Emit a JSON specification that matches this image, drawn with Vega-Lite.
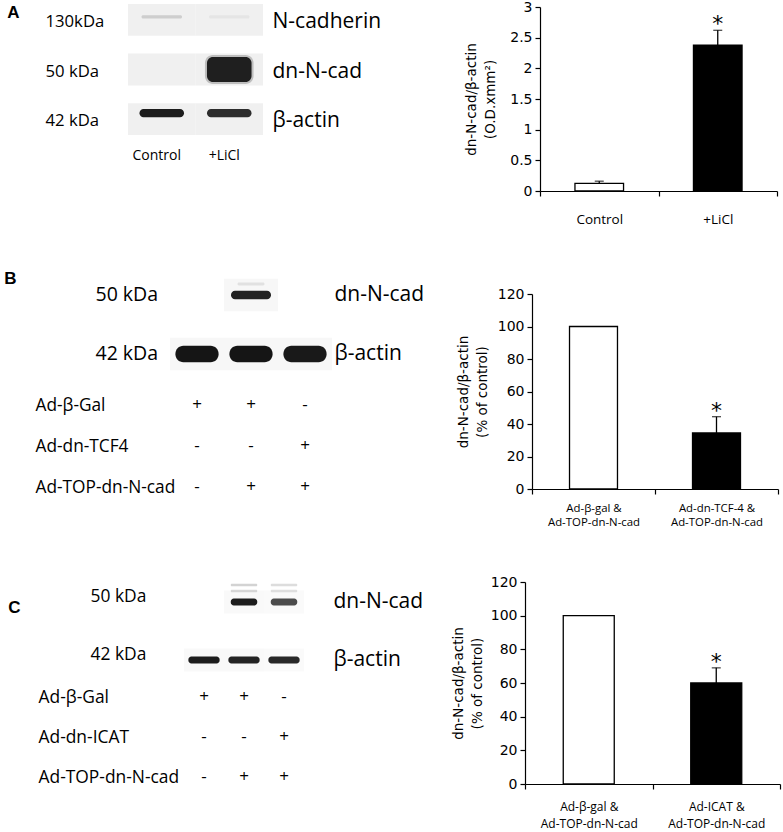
{
  "$schema": "https://vega.github.io/schema/vega-lite/v6.json",
  "width": 783,
  "height": 832,
  "autosize": {"type": "none"},
  "padding": 0,
  "config": {
    "view": {"stroke": null},
    "font": "DejaVu Sans",
    "axis": {"domainColor": "black", "tickColor": "black", "labelColor": "black", "titleColor": "black", "grid": false, "labelFont": "DejaVu Sans", "titleFont": "DejaVu Sans", "domainWidth": 1.2, "tickWidth": 1.2},
    "axisY": {"titleFontSize": 13.5, "titleFontWeight": "normal", "titleLineHeight": 19},
    "text": {"fill": "black", "color": "black"}
  },
  "datasets": {
    "barsA": [
      {"group": "Control", "mean": 0.125, "upper": 0.16, "star": ""},
      {"group": "+LiCl", "mean": 2.38, "upper": 2.62, "star": "*"}
    ],
    "barsB": [
      {"group": "Ad-β-gal & Ad-TOP-dn-N-cad", "mean": 100, "upper": null, "star": ""},
      {"group": "Ad-dn-TCF-4 & Ad-TOP-dn-N-cad", "mean": 34.5, "upper": 44.5, "star": "*"}
    ],
    "barsC": [
      {"group": "Ad-β-gal & Ad-TOP-dn-N-cad", "mean": 100, "upper": null, "star": ""},
      {"group": "Ad-ICAT & Ad-TOP-dn-N-cad", "mean": 60, "upper": 69, "star": "*"}
    ],
    "blotA": [
      {"lane": "Control", "mw": "130kDa", "protein": "N-cadherin", "signal": 0.2},
      {"lane": "+LiCl", "mw": "130kDa", "protein": "N-cadherin", "signal": 0.06},
      {"lane": "Control", "mw": "50 kDa", "protein": "dn-N-cad", "signal": 0},
      {"lane": "+LiCl", "mw": "50 kDa", "protein": "dn-N-cad", "signal": 0.92},
      {"lane": "Control", "mw": "42 kDa", "protein": "β-actin", "signal": 0.95},
      {"lane": "+LiCl", "mw": "42 kDa", "protein": "β-actin", "signal": 0.88}
    ],
    "blotB": [
      {"lane": 1, "mw": "50 kDa", "protein": "dn-N-cad", "signal": 0},
      {"lane": 2, "mw": "50 kDa", "protein": "dn-N-cad", "signal": 0.93},
      {"lane": 3, "mw": "50 kDa", "protein": "dn-N-cad", "signal": 0},
      {"lane": 1, "mw": "42 kDa", "protein": "β-actin", "signal": 0.97},
      {"lane": 2, "mw": "42 kDa", "protein": "β-actin", "signal": 0.97},
      {"lane": 3, "mw": "42 kDa", "protein": "β-actin", "signal": 0.95}
    ],
    "blotC": [
      {"lane": 1, "mw": "50 kDa", "protein": "dn-N-cad", "signal": 0},
      {"lane": 2, "mw": "50 kDa", "protein": "dn-N-cad", "signal": 0.95},
      {"lane": 3, "mw": "50 kDa", "protein": "dn-N-cad", "signal": 0.75},
      {"lane": 1, "mw": "42 kDa", "protein": "β-actin", "signal": 0.95},
      {"lane": 2, "mw": "42 kDa", "protein": "β-actin", "signal": 0.92},
      {"lane": 3, "mw": "42 kDa", "protein": "β-actin", "signal": 0.9}
    ],
    "tableB": [
      {"treatment": "Ad-β-Gal", "lane": 1, "sign": "+"},
      {"treatment": "Ad-β-Gal", "lane": 2, "sign": "+"},
      {"treatment": "Ad-β-Gal", "lane": 3, "sign": "-"},
      {"treatment": "Ad-dn-TCF4", "lane": 1, "sign": "-"},
      {"treatment": "Ad-dn-TCF4", "lane": 2, "sign": "-"},
      {"treatment": "Ad-dn-TCF4", "lane": 3, "sign": "+"},
      {"treatment": "Ad-TOP-dn-N-cad", "lane": 1, "sign": "-"},
      {"treatment": "Ad-TOP-dn-N-cad", "lane": 2, "sign": "+"},
      {"treatment": "Ad-TOP-dn-N-cad", "lane": 3, "sign": "+"}
    ],
    "tableC": [
      {"treatment": "Ad-β-Gal", "lane": 1, "sign": "+"},
      {"treatment": "Ad-β-Gal", "lane": 2, "sign": "+"},
      {"treatment": "Ad-β-Gal", "lane": 3, "sign": "-"},
      {"treatment": "Ad-dn-ICAT", "lane": 1, "sign": "-"},
      {"treatment": "Ad-dn-ICAT", "lane": 2, "sign": "-"},
      {"treatment": "Ad-dn-ICAT", "lane": 3, "sign": "+"},
      {"treatment": "Ad-TOP-dn-N-cad", "lane": 1, "sign": "-"},
      {"treatment": "Ad-TOP-dn-N-cad", "lane": 2, "sign": "+"},
      {"treatment": "Ad-TOP-dn-N-cad", "lane": 3, "sign": "+"}
    ]
  },
  "layer": [
    {
      "data": {"name": "barsA"},
      "encoding": {
        "x": {"field": "group", "type": "nominal",
          "scale": {"type": "band", "domain": ["Control", "+LiCl"], "range": [540, 777], "paddingInner": 0, "paddingOuter": 0},
          "axis": {"orient": "bottom", "offset": -641, "title": null, "labelAngle": 0, "tickBand": "extent", "tickSize": 5, "labelPadding": 16, "labelFont": "Open Sans", "labelFontSize": 13.5}}
      },
      "layer": [
        {"mark": {"type": "bar", "width": {"band": 0.41}, "stroke": "black", "strokeWidth": 1.3},
          "encoding": {
            "y": {"field": "mean", "type": "quantitative", "scale": {"domain": [0, 3], "range": [191, 7]},
              "axis": {"orient": "left", "offset": -540, "values": [0, 0.5, 1, 1.5, 2, 2.5, 3], "format": ".1~f", "tickSize": 5, "labelPadding": 3, "labelFontSize": 14, "title": ["dn-N-cad/β-actin", "(O.D.xmm²)"], "titleFontSize": 13.5, "titleFontWeight": "normal", "titleLineHeight": 19, "titlePadding": 12}},
            "fill": {"field": "group", "type": "nominal", "scale": {"domain": ["Control", "+LiCl"], "range": ["white", "black"]}, "legend": null}
          }},
        {"transform": [{"filter": "isValid(datum.upper)"}], "mark": {"type": "rule", "color": "black", "strokeWidth": 1.3},
          "encoding": {"y": {"field": "mean", "type": "quantitative",
              "axis": {"orient": "left", "offset": -540, "values": [0, 0.5, 1, 1.5, 2, 2.5, 3], "format": ".1~f", "tickSize": 5, "labelPadding": 3, "labelFontSize": 14, "title": ["dn-N-cad/β-actin", "(O.D.xmm²)"], "titleFontSize": 13.5, "titleFontWeight": "normal", "titleLineHeight": 19, "titlePadding": 12}},
            "y2": {"field": "upper"}}},
        {"transform": [{"filter": "isValid(datum.upper)"}], "mark": {"type": "tick", "orient": "horizontal", "size": 9, "thickness": 1.3, "color": "black"},
          "encoding": {"y": {"field": "upper", "type": "quantitative",
              "axis": {"orient": "left", "offset": -540, "values": [0, 0.5, 1, 1.5, 2, 2.5, 3], "format": ".1~f", "tickSize": 5, "labelPadding": 3, "labelFontSize": 14, "title": ["dn-N-cad/β-actin", "(O.D.xmm²)"], "titleFontSize": 13.5, "titleFontWeight": "normal", "titleLineHeight": 19, "titlePadding": 12}}}},
        {"transform": [{"filter": "datum.star != ''"}], "mark": {"type": "text", "font": "DejaVu Sans", "fontSize": 22, "baseline": "alphabetic", "dy": 1},
          "encoding": {"y": {"field": "upper", "type": "quantitative",
              "axis": {"orient": "left", "offset": -540, "values": [0, 0.5, 1, 1.5, 2, 2.5, 3], "format": ".1~f", "tickSize": 5, "labelPadding": 3, "labelFontSize": 14, "title": ["dn-N-cad/β-actin", "(O.D.xmm²)"], "titleFontSize": 13.5, "titleFontWeight": "normal", "titleLineHeight": 19, "titlePadding": 12}},
            "text": {"field": "star"}, "color": {"value": "#000000"}}}
      ]
    },
    {
      "data": {"name": "barsB"},
      "encoding": {
        "x": {"field": "group", "type": "nominal",
          "scale": {"type": "band", "domain": ["Ad-β-gal & Ad-TOP-dn-N-cad", "Ad-dn-TCF-4 & Ad-TOP-dn-N-cad"], "range": [532, 778], "paddingInner": 0, "paddingOuter": 0},
          "axis": {"orient": "bottom", "offset": -343, "title": null, "labelAngle": 0, "tickBand": "extent", "tickSize": 5, "labelPadding": 8, "labelFont": "Open Sans", "labelFontSize": 11.4, "labelLineHeight": 14,
            "labelExpr": "[substring(datum.label, 0, indexof(datum.label, '&') + 1), substring(datum.label, indexof(datum.label, '&') + 2)]"}}
      },
      "layer": [
        {"mark": {"type": "bar", "width": {"band": 0.39}, "stroke": "black", "strokeWidth": 1.3},
          "encoding": {
            "y": {"field": "mean", "type": "quantitative", "scale": {"domain": [0, 120], "range": [489, 294]},
              "axis": {"orient": "left", "offset": -532, "values": [0, 20, 40, 60, 80, 100, 120], "tickSize": 5, "labelPadding": 3, "labelFontSize": 14, "title": ["dn-N-cad/β-actin", "(% of control)"], "titleFontSize": 13.5, "titleFontWeight": "normal", "titleLineHeight": 19, "titlePadding": 8}},
            "fill": {"field": "group", "type": "nominal", "scale": {"domain": ["Ad-β-gal & Ad-TOP-dn-N-cad", "Ad-dn-TCF-4 & Ad-TOP-dn-N-cad"], "range": ["white", "black"]}, "legend": null}
          }},
        {"transform": [{"filter": "isValid(datum.upper)"}], "mark": {"type": "rule", "color": "black", "strokeWidth": 1.3},
          "encoding": {"y": {"field": "mean", "type": "quantitative",
              "axis": {"orient": "left", "offset": -532, "values": [0, 20, 40, 60, 80, 100, 120], "tickSize": 5, "labelPadding": 3, "labelFontSize": 14, "title": ["dn-N-cad/β-actin", "(% of control)"], "titleFontSize": 13.5, "titleFontWeight": "normal", "titleLineHeight": 19, "titlePadding": 8}},
            "y2": {"field": "upper"}}},
        {"transform": [{"filter": "isValid(datum.upper)"}], "mark": {"type": "tick", "orient": "horizontal", "size": 9, "thickness": 1.3, "color": "black"},
          "encoding": {"y": {"field": "upper", "type": "quantitative",
              "axis": {"orient": "left", "offset": -532, "values": [0, 20, 40, 60, 80, 100, 120], "tickSize": 5, "labelPadding": 3, "labelFontSize": 14, "title": ["dn-N-cad/β-actin", "(% of control)"], "titleFontSize": 13.5, "titleFontWeight": "normal", "titleLineHeight": 19, "titlePadding": 8}}}},
        {"transform": [{"filter": "datum.star != ''"}], "mark": {"type": "text", "font": "DejaVu Sans", "fontSize": 22, "baseline": "alphabetic", "dy": 1},
          "encoding": {"y": {"field": "upper", "type": "quantitative",
              "axis": {"orient": "left", "offset": -532, "values": [0, 20, 40, 60, 80, 100, 120], "tickSize": 5, "labelPadding": 3, "labelFontSize": 14, "title": ["dn-N-cad/β-actin", "(% of control)"], "titleFontSize": 13.5, "titleFontWeight": "normal", "titleLineHeight": 19, "titlePadding": 8}},
            "text": {"field": "star"}, "color": {"value": "#000000"}}}
      ]
    },
    {
      "data": {"name": "barsC"},
      "encoding": {
        "x": {"field": "group", "type": "nominal",
          "scale": {"type": "band", "domain": ["Ad-β-gal & Ad-TOP-dn-N-cad", "Ad-ICAT & Ad-TOP-dn-N-cad"], "range": [525, 780], "paddingInner": 0, "paddingOuter": 0},
          "axis": {"orient": "bottom", "offset": -48, "title": null, "labelAngle": 0, "tickBand": "extent", "tickSize": 5, "labelPadding": 12, "labelFont": "Open Sans", "labelFontSize": 12, "labelLineHeight": 17,
            "labelExpr": "[substring(datum.label, 0, indexof(datum.label, '&') + 1), substring(datum.label, indexof(datum.label, '&') + 2)]"}}
      },
      "layer": [
        {"mark": {"type": "bar", "width": {"band": 0.4}, "stroke": "black", "strokeWidth": 1.3},
          "encoding": {
            "y": {"field": "mean", "type": "quantitative", "scale": {"domain": [0, 120], "range": [784, 582]},
              "axis": {"orient": "left", "offset": -525, "values": [0, 20, 40, 60, 80, 100, 120], "tickSize": 5, "labelPadding": 3, "labelFontSize": 14, "title": ["dn-N-cad/β-actin", "(% of control)"], "titleFontSize": 13.5, "titleFontWeight": "normal", "titleLineHeight": 19, "titlePadding": 6}},
            "fill": {"field": "group", "type": "nominal", "scale": {"domain": ["Ad-β-gal & Ad-TOP-dn-N-cad", "Ad-ICAT & Ad-TOP-dn-N-cad"], "range": ["white", "black"]}, "legend": null}
          }},
        {"transform": [{"filter": "isValid(datum.upper)"}], "mark": {"type": "rule", "color": "black", "strokeWidth": 1.3},
          "encoding": {"y": {"field": "mean", "type": "quantitative",
              "axis": {"orient": "left", "offset": -525, "values": [0, 20, 40, 60, 80, 100, 120], "tickSize": 5, "labelPadding": 3, "labelFontSize": 14, "title": ["dn-N-cad/β-actin", "(% of control)"], "titleFontSize": 13.5, "titleFontWeight": "normal", "titleLineHeight": 19, "titlePadding": 6}},
            "y2": {"field": "upper"}}},
        {"transform": [{"filter": "isValid(datum.upper)"}], "mark": {"type": "tick", "orient": "horizontal", "size": 9, "thickness": 1.3, "color": "black"},
          "encoding": {"y": {"field": "upper", "type": "quantitative",
              "axis": {"orient": "left", "offset": -525, "values": [0, 20, 40, 60, 80, 100, 120], "tickSize": 5, "labelPadding": 3, "labelFontSize": 14, "title": ["dn-N-cad/β-actin", "(% of control)"], "titleFontSize": 13.5, "titleFontWeight": "normal", "titleLineHeight": 19, "titlePadding": 6}}}},
        {"transform": [{"filter": "datum.star != ''"}], "mark": {"type": "text", "font": "DejaVu Sans", "fontSize": 22, "baseline": "alphabetic", "dy": 1},
          "encoding": {"y": {"field": "upper", "type": "quantitative",
              "axis": {"orient": "left", "offset": -525, "values": [0, 20, 40, 60, 80, 100, 120], "tickSize": 5, "labelPadding": 3, "labelFontSize": 14, "title": ["dn-N-cad/β-actin", "(% of control)"], "titleFontSize": 13.5, "titleFontWeight": "normal", "titleLineHeight": 19, "titlePadding": 6}},
            "text": {"field": "star"}, "color": {"value": "#000000"}}}
      ]
    },
    {
      "data": {"name": "blotA"},
      "mark": {"type": "rect", "fill": "#f0f0f0"},
      "encoding": {
        "x": {"field": "lane", "type": "nominal", "scale": {"type": "band", "domain": ["Control", "+LiCl"], "range": [128, 263], "paddingInner": 0, "paddingOuter": 0},
          "axis": {"orient": "bottom", "offset": -692, "title": null, "domain": false, "ticks": false, "tickSize": 0, "labelPadding": 8, "labelAngle": 0, "labelOffset": -5, "labelFont": "Open Sans", "labelFontSize": 14}},
        "y": {"field": "mw", "type": "nominal", "scale": {"type": "band", "domain": ["130kDa", "50 kDa", "42 kDa"], "range": [4, 135], "paddingInner": 0.36, "paddingOuter": 0},
          "axis": {"orient": "left", "offset": -45, "title": "A", "titleAngle": 0, "titleX": -32, "titleY": 12, "titleAlign": "center", "titleBaseline": "middle", "titleFont": "Liberation Sans", "titleFontWeight": "bold", "titleFontSize": 17, "titleLineHeight": 17, "domain": false, "ticks": false, "tickSize": 0, "labelPadding": 0, "labelAlign": "left", "labelOffset": 2, "labelFont": "Open Sans", "labelFontSize": 16.7}}
      }
    },
    {
      "data": {"name": "blotA"},
      "encoding": {
        "x": {"field": "lane", "type": "nominal", "scale": {"type": "band", "domain": ["Control", "+LiCl"], "range": [128, 263], "paddingInner": 0, "paddingOuter": 0}, "axis": null},
        "y": {"field": "protein", "type": "nominal", "scale": {"type": "band", "domain": ["N-cadherin", "dn-N-cad", "β-actin"], "range": [4, 135], "paddingInner": 0.36, "paddingOuter": 0},
          "axis": {"orient": "right", "offset": -511, "title": null, "domain": false, "ticks": false, "tickSize": 0, "labelPadding": 0, "labelAlign": "left", "labelOffset": 2, "labelFont": "Open Sans", "labelFontSize": 21}},
        "opacity": {"field": "signal", "type": "quantitative", "scale": {"domain": [0, 1], "range": [0, 1]}, "legend": null}
      },
      "layer": [
        {"transform": [{"filter": "datum.protein == 'N-cadherin'"}], "mark": {"type": "rect", "fill": "#444", "width": {"band": 0.6}, "height": {"band": 0.1}, "yOffset": -3, "cornerRadius": 1.5}},
        {"transform": [{"filter": "datum.protein == 'dn-N-cad'"}], "mark": {"type": "rect", "fill": "#555", "fillOpacity": 0.35, "width": {"band": 0.72}, "height": {"band": 0.92}, "cornerRadius": 8}},
        {"transform": [{"filter": "datum.protein == 'dn-N-cad'"}], "mark": {"type": "rect", "fill": "#111", "width": {"band": 0.66}, "height": {"band": 0.78}, "cornerRadius": 6}},
        {"transform": [{"filter": "datum.protein == 'β-actin'"}], "mark": {"type": "rect", "fill": "#111", "width": {"band": 0.66}, "height": {"band": 0.26}, "yOffset": -6, "cornerRadius": 4}}
      ]
    },
    {
      "data": {"name": "blotB"},
      "mark": {"type": "rect", "fill": "#888", "height": {"band": 0.55}},
      "encoding": {
        "x": {"field": "lane", "type": "ordinal", "scale": {"type": "band", "domain": [1, 2, 3], "range": [170, 332], "paddingInner": 0, "paddingOuter": 0}, "axis": null},
        "y": {"field": "mw", "type": "nominal", "scale": {"type": "band", "domain": ["50 kDa", "42 kDa"], "range": [265.5, 383.5], "paddingInner": 0, "paddingOuter": 0},
          "axis": {"orient": "left", "offset": -95, "title": "B", "titleAngle": 0, "titleX": -85, "titleY": 278, "titleAlign": "center", "titleBaseline": "middle", "titleFont": "Liberation Sans", "titleFontWeight": "bold", "titleFontSize": 17, "titleLineHeight": 17, "domain": false, "ticks": false, "tickSize": 0, "labelPadding": 0, "labelAlign": "left", "labelFont": "Open Sans", "labelFontSize": 19.5}},
        "opacity": {"field": "signal", "type": "quantitative", "scale": {"domain": [0, 1], "range": [0, 0.07]}, "legend": null}
      }
    },
    {
      "data": {"name": "blotB"},
      "encoding": {
        "x": {"field": "lane", "type": "ordinal", "scale": {"type": "band", "domain": [1, 2, 3], "range": [170, 332], "paddingInner": 0, "paddingOuter": 0}, "axis": null},
        "y": {"field": "protein", "type": "nominal", "scale": {"type": "band", "domain": ["dn-N-cad", "β-actin"], "range": [265.5, 383.5], "paddingInner": 0, "paddingOuter": 0},
          "axis": {"orient": "right", "offset": -449, "title": null, "domain": false, "ticks": false, "tickSize": 0, "labelPadding": 0, "labelAlign": "left", "labelFont": "Open Sans", "labelFontSize": 21}},
        "opacity": {"field": "signal", "type": "quantitative", "scale": {"domain": [0, 1], "range": [0, 1]}, "legend": null}
      },
      "layer": [
        {"transform": [{"filter": "datum.protein == 'dn-N-cad'"}], "mark": {"type": "rect", "fill": "#999", "fillOpacity": 0.25, "width": {"band": 0.5}, "height": {"band": 0.05}, "yOffset": -11, "cornerRadius": 1.5}},
        {"transform": [{"filter": "datum.protein == 'dn-N-cad'"}], "mark": {"type": "rect", "fill": "#111", "width": {"band": 0.74}, "height": {"band": 0.14}, "cornerRadius": 4}},
        {"transform": [{"filter": "datum.protein == 'β-actin'"}], "mark": {"type": "rect", "fill": "#0d0d0d", "width": {"band": 0.8}, "height": {"band": 0.28}, "cornerRadius": 8}}
      ]
    },
    {
      "data": {"name": "tableB"},
      "mark": {"type": "text", "font": "Open Sans", "fontSize": 17},
      "encoding": {
        "x": {"field": "lane", "type": "ordinal", "scale": {"type": "band", "domain": [1, 2, 3], "range": [170, 332], "paddingInner": 0, "paddingOuter": 0}, "axis": null},
        "y": {"field": "treatment", "type": "nominal", "scale": {"type": "point", "domain": ["Ad-β-Gal", "Ad-dn-TCF4", "Ad-TOP-dn-N-cad"], "range": [405, 487], "padding": 0},
          "axis": {"orient": "left", "offset": -35, "title": null, "domain": false, "ticks": false, "tickSize": 0, "labelPadding": 0, "labelAlign": "left", "labelFont": "Open Sans", "labelFontSize": 17.3}},
        "text": {"field": "sign"},
        "color": {"value": "#000000"}
      }
    },
    {
      "data": {"name": "blotC"},
      "mark": {"type": "rect", "fill": "#888", "height": {"band": 0.4}},
      "encoding": {
        "x": {"field": "lane", "type": "ordinal", "scale": {"type": "band", "domain": [1, 2, 3], "range": [184, 304], "paddingInner": 0, "paddingOuter": 0}, "axis": null},
        "y": {"field": "mw", "type": "nominal", "scale": {"type": "band", "domain": ["50 kDa", "42 kDa"], "range": [573, 689], "paddingInner": 0, "paddingOuter": 0},
          "axis": {"orient": "left", "offset": -90, "title": "C", "titleAngle": 0, "titleX": -76, "titleY": 607, "titleAlign": "center", "titleBaseline": "middle", "titleFont": "Liberation Sans", "titleFontWeight": "bold", "titleFontSize": 17, "titleLineHeight": 17, "domain": false, "ticks": false, "tickSize": 0, "labelPadding": 0, "labelAlign": "left", "labelOffset": -5, "labelFont": "Open Sans", "labelFontSize": 17.4}},
        "opacity": {"field": "signal", "type": "quantitative", "scale": {"domain": [0, 1], "range": [0, 0.05]}, "legend": null}
      }
    },
    {
      "data": {"name": "blotC"},
      "encoding": {
        "x": {"field": "lane", "type": "ordinal", "scale": {"type": "band", "domain": [1, 2, 3], "range": [184, 304], "paddingInner": 0, "paddingOuter": 0}, "axis": null},
        "y": {"field": "protein", "type": "nominal", "scale": {"type": "band", "domain": ["dn-N-cad", "β-actin"], "range": [573, 689], "paddingInner": 0, "paddingOuter": 0},
          "axis": {"orient": "right", "offset": -450, "title": null, "domain": false, "ticks": false, "tickSize": 0, "labelPadding": 0, "labelAlign": "left", "labelFont": "Open Sans", "labelFontSize": 21}},
        "opacity": {"field": "signal", "type": "quantitative", "scale": {"domain": [0, 1], "range": [0, 1]}, "legend": null}
      },
      "layer": [
        {"transform": [{"filter": "datum.protein == 'dn-N-cad'"}], "mark": {"type": "rect", "fill": "#666", "fillOpacity": 0.3, "width": {"band": 0.66}, "height": {"band": 0.04}, "yOffset": -17, "cornerRadius": 1}},
        {"transform": [{"filter": "datum.protein == 'dn-N-cad'"}], "mark": {"type": "rect", "fill": "#666", "fillOpacity": 0.25, "width": {"band": 0.66}, "height": {"band": 0.04}, "yOffset": -11, "cornerRadius": 1}},
        {"transform": [{"filter": "datum.protein == 'dn-N-cad'"}], "mark": {"type": "rect", "fill": "#111", "width": {"band": 0.66}, "height": {"band": 0.12}, "cornerRadius": 3}},
        {"transform": [{"filter": "datum.protein == 'β-actin'"}], "mark": {"type": "rect", "fill": "#111", "width": {"band": 0.78}, "height": {"band": 0.12}, "cornerRadius": 3}}
      ]
    },
    {
      "data": {"name": "tableC"},
      "mark": {"type": "text", "font": "Open Sans", "fontSize": 17},
      "encoding": {
        "x": {"field": "lane", "type": "ordinal", "scale": {"type": "band", "domain": [1, 2, 3], "range": [184, 304], "paddingInner": 0, "paddingOuter": 0}, "axis": null},
        "y": {"field": "treatment", "type": "nominal", "scale": {"type": "point", "domain": ["Ad-β-Gal", "Ad-dn-ICAT", "Ad-TOP-dn-N-cad"], "range": [697, 777], "padding": 0},
          "axis": {"orient": "left", "offset": -38, "title": null, "domain": false, "ticks": false, "tickSize": 0, "labelPadding": 0, "labelAlign": "left", "labelFont": "Open Sans", "labelFontSize": 17.4}},
        "text": {"field": "sign"},
        "color": {"value": "#000000"}
      }
    }
  ],
  "resolve": {
    "scale": {"x": "independent", "y": "independent", "fill": "independent", "opacity": "independent"},
    "axis": {"x": "independent", "y": "independent"}
  }
}
